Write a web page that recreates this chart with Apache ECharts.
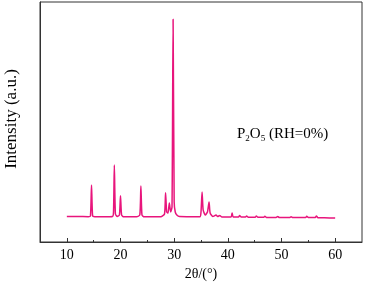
<!DOCTYPE html>
<html>
<head>
<meta charset="utf-8">
<script src="https://cdn.jsdelivr.net/npm/echarts@6/dist/echarts.min.js"></script>
<style>
  html, body { margin: 0; padding: 0; background: #fff; }
  #chart { width: 366px; height: 283px; }
</style>
</head>
<body>
<div id="chart"></div>
<script>
// 2θ values (deg)
const twoTheta = [
  10.0, 12.0, 14.0, 14.4, 14.6, 14.8, 15.2, 17.0, 18.5, 18.7, 18.85, 19.05, 19.4,
  19.8, 20.0, 20.2, 20.6, 23.0, 23.6, 23.8, 24.0, 24.4, 27.5, 28.2, 28.4, 28.6,
  28.85, 29.1, 29.35, 29.6, 29.8, 30.0, 30.2, 30.5, 31.0, 34.8, 35.0, 35.2, 35.4,
  35.8, 36.2, 36.5, 36.7, 37.2, 37.8, 38.1, 38.5, 38.9, 40.6, 40.8, 41.0, 42.0,
  42.2, 42.5, 43.3, 43.5, 43.8, 45.1, 45.3, 45.6, 46.7, 46.9, 47.2, 49.0, 49.3,
  49.6, 51.5, 51.8, 52.1, 54.5, 54.7, 55.0, 56.3, 56.5, 56.8, 58.0, 60.0
];
// intensity (a.u.)
const intensity = [
  25.5, 25.5, 25.3, 26.0, 57.0, 26.0, 25.3, 25.2, 25.5, 30.0, 77.0, 28.0, 25.5,
  27.0, 46.3, 27.0, 25.2, 25.2, 27.0, 56.0, 27.0, 25.2, 25.2, 28.0, 49.3, 30.0,
  29.0, 39.0, 30.0, 35.0, 222.7, 40.0, 30.0, 27.0, 25.5, 25.3, 30.0, 50.0, 32.0,
  27.0, 30.0, 40.0, 29.0, 25.5, 27.0, 25.5, 26.5, 25.0, 25.0, 29.0, 25.0, 25.0,
  26.5, 25.0, 25.0, 26.0, 24.8, 24.8, 26.0, 24.8, 24.8, 25.8, 24.6, 24.6, 25.4,
  24.6, 24.5, 25.3, 24.5, 24.5, 25.8, 24.4, 24.4, 26.0, 24.3, 24.2, 24.0
];
const xTickLabels = [10, 20, 30, 40, 50, 60];
const xMinorTicks = [15, 25, 35, 45, 55];

const serif = '"Liberation Serif", "DejaVu Serif", serif';
const chart = echarts.init(document.getElementById('chart'), null, {renderer: 'canvas'});

chart.setOption({
  animation: false,
  grid: {
    left: 40, right: 4, top: 2, bottom: 41,
    outerBoundsMode: 'none', containLabel: false,
    show: true, borderColor: '#333', borderWidth: 1
  },
  xAxis: [
    {
      type: 'value', min: 5, max: 65,
      name: '2θ/(°)', nameLocation: 'middle', nameGap: 25,
      nameTextStyle: {fontFamily: serif, fontSize: 14, color: '#000'},
      axisLine: {show: true, lineStyle: {color: '#333', width: 1}},
      axisTick: {show: true, inside: true, length: 4, customValues: xTickLabels, lineStyle: {color: '#333'}},
      axisLabel: {customValues: xTickLabels, fontFamily: serif, fontSize: 14, color: '#000', margin: 6},
      splitLine: {show: false}
    },
    {
      type: 'value', min: 5, max: 65, position: 'bottom',
      axisLine: {show: false},
      axisTick: {show: true, inside: true, length: 2, customValues: xMinorTicks, lineStyle: {color: '#333'}},
      axisLabel: {show: false},
      splitLine: {show: false}
    }
  ],
  yAxis: {
    type: 'value', min: 0, max: 240,
    axisLine: {show: true, lineStyle: {color: '#333'}},
    axisTick: {show: false},
    axisLabel: {show: false},
    splitLine: {show: false}
  },
  graphic: [
    {
      type: 'text',
      x: 12, y: 119, rotation: Math.PI / 2,
      style: {
        text: 'Intensity (a.u.)',
        font: '17px ' + serif,
        fill: '#000',
        align: 'center', verticalAlign: 'middle'
      }
    },
    {
      type: 'text',
      left: 237, top: 127,
      style: {
        text: '{n|P}{s|2}{n|O}{s|5}{n| (RH=0%)}',
        rich: {
          n: {fontFamily: serif, fontSize: 15, fill: '#000'},
          s: {fontFamily: serif, fontSize: 9, fill: '#000', padding: [9, 0, 0, 0]}
        }
      }
    }
  ],
  series: [{
    type: 'line',
    xAxisIndex: 0,
    data: twoTheta.map((x, i) => [x, intensity[i]]),
    showSymbol: false,
    smooth: 0.2,
    lineStyle: {color: '#e8157c', width: 1.5}
  }]
});
</script>
</body>
</html>
